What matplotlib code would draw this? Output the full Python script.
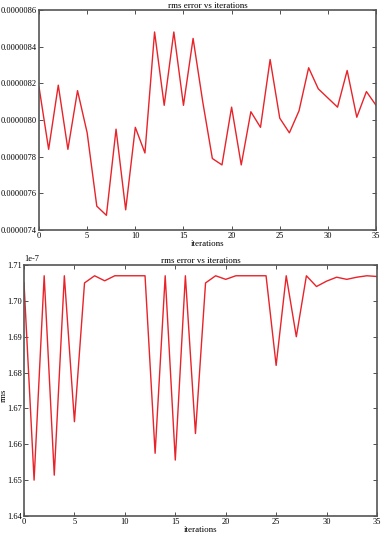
import numpy as np
import matplotlib
matplotlib.use("Agg")
import matplotlib.pyplot as plt
from matplotlib.ticker import FormatStrFormatter

plt.rcParams['font.family'] = ['Liberation Serif', 'DejaVu Serif']
plt.rcParams['font.size'] = 6
plt.rcParams['axes.unicode_minus'] = False
plt.rcParams['xtick.direction'] = 'in'
plt.rcParams['ytick.direction'] = 'in'
plt.rcParams['xtick.top'] = True
plt.rcParams['ytick.right'] = True

# top chart: rms error per iteration
iters = np.arange(36)
rms_top = [8.18, 7.84, 8.19, 7.84, 8.16, 7.93, 7.53, 7.48, 7.95, 7.51,
           7.96, 7.82, 8.48, 8.08, 8.48, 8.08, 8.445, 8.10, 7.79, 7.755,
           8.07, 7.755, 8.045, 7.96, 8.33, 8.01, 7.93, 8.05, 8.285, 8.17,
           8.12, 8.07, 8.27, 8.015, 8.155, 8.08]
# bottom chart (units of 1e-7)
rms_bot = [1.705, 1.650, 1.707, 1.6514, 1.707, 1.6663, 1.705, 1.707, 1.7056, 1.707,
           1.707, 1.707, 1.707, 1.6575, 1.707, 1.6556, 1.707, 1.663, 1.705, 1.707,
           1.706, 1.707, 1.707, 1.707, 1.707, 1.682, 1.707, 1.690, 1.707, 1.704,
           1.7055, 1.7066, 1.706, 1.7066, 1.707, 1.7068]

fig = plt.figure(figsize=(3.81, 5.37), dpi=100)

ax1 = fig.add_axes([0.1024, 0.5717, 0.8846, 0.4097])
ax1.plot(iters, np.array(rms_top) * 1e-6, color='#e8232a', lw=1)
ax1.set_xlim(0, 35)
ax1.set_ylim(7.4e-6, 8.6e-6)
ax1.set_yticks(np.arange(7.4, 8.61, 0.2) * 1e-6)
ax1.yaxis.set_major_formatter(FormatStrFormatter('%.7f'))
ax1.set_title('rms error vs iterations', fontsize=6.5, pad=1)
ax1.set_xlabel('iterations', fontsize=6.5, labelpad=0)

ax2 = fig.add_axes([0.063, 0.0391, 0.9265, 0.4674])
ax2.plot(iters, np.array(rms_bot) * 1e-7, color='#e8232a', lw=1)
ax2.set_xlim(0, 35)
ax2.set_ylim(1.64e-7, 1.71e-7)
ax2.set_yticks(np.arange(1.64, 1.711, 0.01) * 1e-7)
ax2.set_title('rms error vs iterations', fontsize=6.5, pad=1)
ax2.set_xlabel('iterations', fontsize=6.5, labelpad=0)
ax2.set_ylabel('rms', fontsize=6.5)
ax2.yaxis.set_label_coords(-0.046, 0.48)

for ax in (ax1, ax2):
    for s in ax.spines.values():
        s.set_color('#555555')
        s.set_linewidth(1.2)
    ax.tick_params(length=3, width=0.6, pad=1.5, colors='#333333', labelcolor='black')

fig.savefig('out.png', dpi=100)
